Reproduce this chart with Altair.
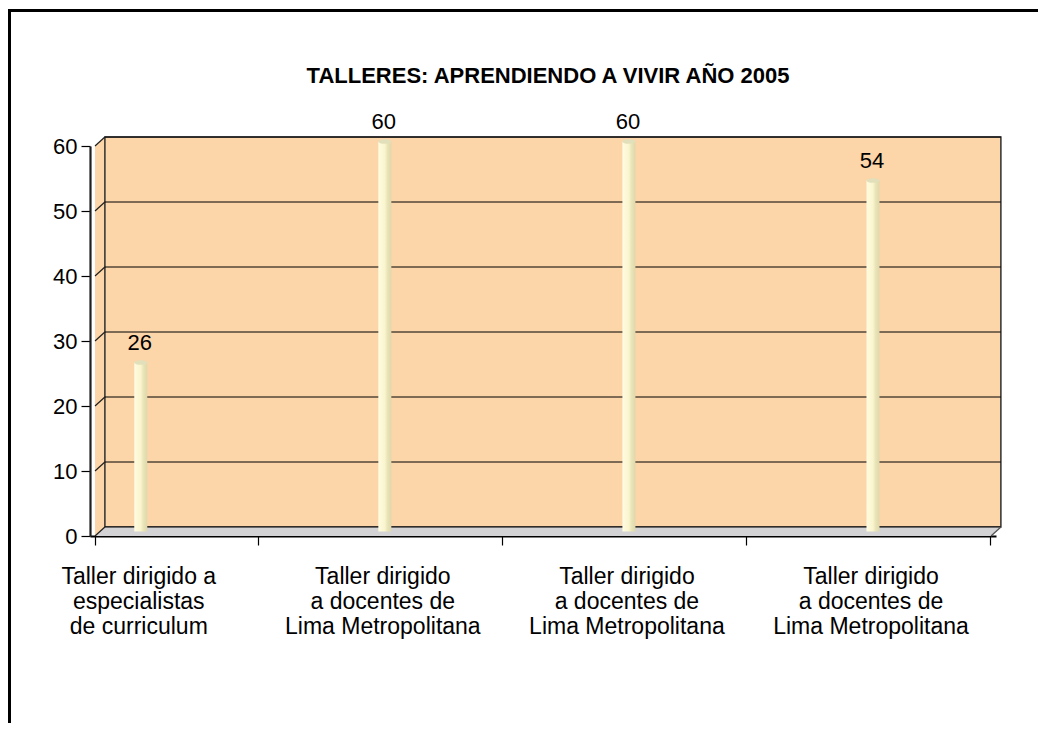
import altair as alt
import pandas as pd

# ---- data ----
categories = [
    "Taller dirigido a\nespecialistas\nde curriculum",
    "Taller dirigido\na docentes de\nLima Metropolitana",
    "Taller dirigido\na docentes de\nLima Metropolitana",
    "Taller dirigido\na docentes de\nLima Metropolitana",
]
values = [26, 60, 60, 54]
y_ticks = [0, 10, 20, 30, 40, 50, 60]
title_text = "TALLERES: APRENDIENDO A VIVIR AÑO 2005"

# ---- geometry / style ----
W, H = 906, 390
DX, DY = 10, 9          # 3D depth offset in px
X0, X1 = -0.167, 3.504  # x domain (category index space)
YMAX = 60
FONT = "Liberation Sans"
PEACH = "#FCD5A8"
FLOOR = "#D3D3D5"

kx = (X1 - X0) / W
ky = YMAX / H
ddx = DX * kx
ddy = DY * ky

xs = alt.Scale(domain=[X0, X1], nice=False, zero=False)
ys = alt.Scale(domain=[0, YMAX], nice=False, zero=False)

AX = alt.Axis(values=[X0, 0.5, 1.5, 2.5, 3.5], labels=False, title="", grid=False,
              tickSize=9, tickColor="black", tickWidth=1.2,
              domainColor="black", domainWidth=1.8)
AY = alt.Axis(values=y_ticks, title="", grid=False, tickSize=9, tickColor="black",
              tickWidth=1.2, domainColor="#202020", domainWidth=2.2, labelFontSize=22,
              labelFont=FONT, labelColor="black", labelPadding=4)


def X(f):
    return alt.X(f, scale=xs, axis=AX)


def Y(f):
    return alt.Y(f, scale=ys, axis=AY)


df = pd.DataFrame({"i": list(range(len(values))), "v": values, "cat": categories})
tk = pd.DataFrame({"t": y_ticks})
one = pd.DataFrame({"a": [0]})

# axes layer (front plane)
axes = alt.Chart(tk).mark_rule(opacity=0).encode(x=X("t:Q"), y=Y("t:Q"))

# back wall
wall_df = pd.DataFrame({"x": [X0 + ddx], "x2": [X1 + ddx], "y": [ddy], "y2": [YMAX + ddy]})
wall = alt.Chart(wall_df).mark_rect(fill=PEACH, stroke="#303030", strokeWidth=1.5).encode(
    x=X("x:Q"), x2="x2:Q", y=Y("y:Q"), y2="y2:Q")

# side wall
side_df = pd.DataFrame({"x": [X0, X0 + ddx], "y": [0, ddy], "y2": [YMAX, YMAX + ddy]})
side = alt.Chart(side_df).mark_area(fill=PEACH).encode(
    x=X("x:Q"), y=Y("y:Q"), y2="y2:Q")

# floor
floor_df = pd.DataFrame({"x": [X0, X0 + ddx, X1, X1 + ddx],
                         "y": [0, 0, 0, ddy], "y2": [0, ddy, ddy, ddy]})
floor = alt.Chart(floor_df).mark_area(fill=FLOOR).encode(
    x=X("x:Q"), y=Y("y:Q"), y2="y2:Q")

# gridlines on back wall
grid = alt.Chart(tk).transform_calculate(
    gx=str(X0 + ddx), gx2=str(X1 + ddx), gy=f"datum.t + {ddy}"
).mark_rule(color="black", strokeWidth=1).encode(
    x=X("gx:Q"), x2="gx2:Q", y=Y("gy:Q"))

# connectors from front ticks to back wall
conn = alt.Chart(tk).transform_calculate(
    cx=str(X0), cx2=str(X0 + ddx), cy2=f"datum.t + {ddy}"
).mark_rule(color="#202020", strokeWidth=1.2).encode(
    x=X("cx:Q"), x2="cx2:Q", y=Y("t:Q"), y2="cy2:Q")

# right floor diagonal
rdiag_df = pd.DataFrame({"x": [X1], "x2": [X1 + ddx], "y": [0], "y2": [ddy]})
rdiag = alt.Chart(rdiag_df).mark_rule(color="#505050", strokeWidth=1.2).encode(
    x=X("x:Q"), x2="x2:Q", y=Y("y:Q"), y2="y2:Q")

grad = {
    "gradient": "linear", "x1": 0, "x2": 1, "y1": 0, "y2": 0,
    "stops": [
        {"offset": 0, "color": "#FFFCE2"},
        {"offset": 0.5, "color": "#FAF5CD"},
        {"offset": 0.68, "color": "#EAE5BA"},
        {"offset": 1, "color": "#DED8AB"},
    ],
}
bars = alt.Chart(df).mark_bar(width=13, fill=grad, xOffset=5, x2Offset=5,
                              yOffset=-4.5, y2Offset=-4.5).encode(
    x=X("i:Q"), y=Y("v:Q"), y2=alt.datum(0))

cap = alt.Chart(df).mark_point(
    shape="M-1,0 A1,0.36 0 1,0 1,0 A1,0.36 0 1,0 -1,0 Z",
    size=169, filled=True, fill="#E2DFBB", opacity=1, strokeWidth=0,
    xOffset=5, yOffset=-4.5).encode(x=X("i:Q"), y=Y("v:Q"))

vlabels = alt.Chart(df).mark_text(font=FONT, fontSize=22, color="black",
                                  baseline="middle", dx=4, dy=-24).encode(
    x=X("i:Q"), y=Y("v:Q"), text="v:Q")

clabels = alt.Chart(df).mark_text(font=FONT, fontSize=23, color="black",
                                  baseline="top", align="center", lineBreak="\n",
                                  lineHeight=25, dx=3).encode(
    x=X("i:Q"), y=alt.value(H + 30), text="cat:N")

title = alt.Chart(one).mark_text(font=FONT, fontSize=22, fontWeight="bold", color="black",
                                 align="center", baseline="middle").encode(
    x=alt.value(458), y=alt.value(-70), text=alt.value(title_text))

frame_l = alt.Chart(one).mark_rule(color="black", strokeWidth=3).encode(
    x=alt.value(-80.5), y=alt.value(-137), y2=alt.value(700))
frame_t = alt.Chart(one).mark_rule(color="black", strokeWidth=3).encode(
    x=alt.value(-82), x2=alt.value(1000), y=alt.value(-135.5))

chart = alt.layer(
    axes, frame_l, frame_t, title,
    side, wall, floor, grid, conn, rdiag,
    bars, cap, vlabels, clabels,
).properties(
    width=W, height=H,
    autosize=alt.AutoSizeParams(type="none"),
    padding={"left": 82, "top": 138, "right": 42, "bottom": 187},
).configure_view(strokeWidth=0)

chart.save("out.html", embed_options={"renderer": "svg", "actions": False})
